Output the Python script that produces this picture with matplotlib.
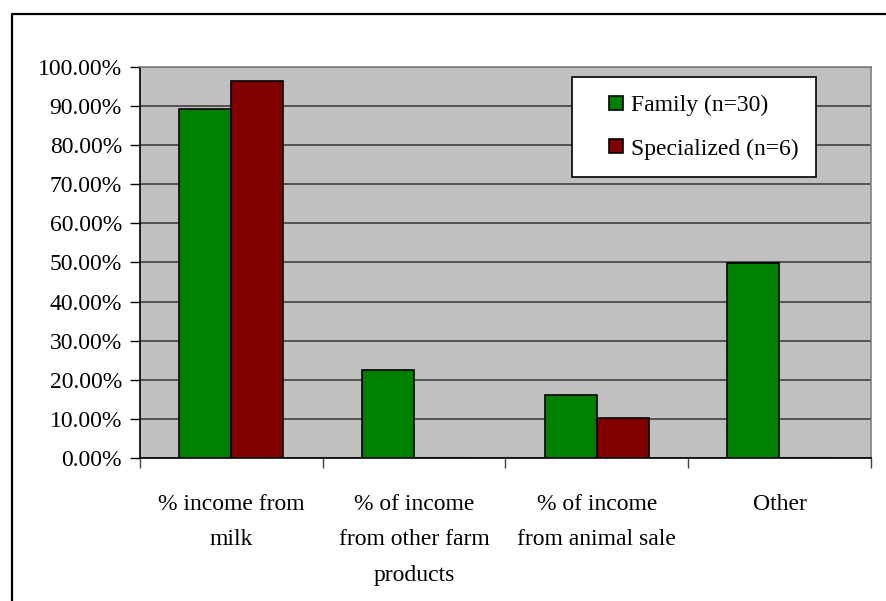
import matplotlib.pyplot as plt
import numpy as np
from matplotlib.lines import Line2D
from matplotlib.patches import Rectangle
from matplotlib.legend_handler import HandlerPatch

plt.rcParams['font.family'] = ['Liberation Serif', 'DejaVu Serif']

categories = ['% income from\nmilk',
              '% of income\nfrom other farm\nproducts',
              '% of income\nfrom animal sale',
              'Other']
family = [89.2, 22.5, 16.1, 49.8]
specialized = [96.4, 0.0, 10.1, 0.0]
series_names = ['Family (n=30)', 'Specialized (n=6)']


def small_square(legend, orig_handle, xdescent, ydescent, width, height, fontsize):
    # square key pushed to the right end of the handle box
    s = 0.6 * fontsize
    return Rectangle((-xdescent + width - s, -ydescent + (height - s) / 2), s, s)


fig = plt.figure(figsize=(8.87, 6.01), dpi=100)
ax = fig.add_axes([0.1578, 0.238, 0.824, 0.6506])
ax.set_facecolor('#c0c0c0')

x = np.arange(len(categories))
w = 0.285
bars_f = ax.bar(x - w / 2, family, w, color='#008000', edgecolor='black', linewidth=1.2,
                label=series_names[0], zorder=3)
bars_s = ax.bar(x + w / 2, specialized, w, color='#800000', edgecolor='black', linewidth=1.2,
                label=series_names[1], zorder=3)

ax.set_xlim(-0.5, len(categories) - 0.5)
ax.set_ylim(0, 100)
ax.set_yticks(np.arange(0, 101, 10))
ax.set_yticklabels(['%.2f%%' % v for v in np.arange(0, 101, 10)], fontsize=17)
ax.yaxis.grid(True, color='#404040', linewidth=1.2, zorder=1)

ax.set_xticks(x)
ax.set_xticklabels(categories, fontsize=17, linespacing=1.9)
ax.set_xticks(np.arange(-0.5, len(categories)), minor=True)
ax.tick_params(axis='x', which='major', length=0, pad=26)
ax.tick_params(axis='x', which='minor', length=7, width=1, color='#404040', direction='out')
ax.tick_params(axis='y', length=7, width=1, direction='out', pad=6)

for side in ['top', 'right']:
    ax.spines[side].set_color('#808080')
    ax.spines[side].set_linewidth(1.2)
for side in ['left', 'bottom']:
    ax.spines[side].set_color('black')
    ax.spines[side].set_linewidth(1.2)

leg = ax.legend([bars_f[0], bars_s[0]], series_names,
                loc='upper left', bbox_to_anchor=(0.591, 0.974), fontsize=17,
                frameon=True, fancybox=False, framealpha=1, edgecolor='black',
                handlelength=1.4, handleheight=0.6, handletextpad=0.35,
                labelspacing=0.95, borderpad=0.75, borderaxespad=0,
                handler_map={Rectangle: HandlerPatch(patch_func=small_square)})
leg.get_frame().set_linewidth(1.2)

# outer chart frame (only top and left edges fall inside the image)
fig.add_artist(Line2D([0.0135, 0.0135, 1.0], [0.0, 0.9767, 0.9767],
                      transform=fig.transFigure, color='black', linewidth=1.6))

fig.savefig('out.png', dpi=100)
